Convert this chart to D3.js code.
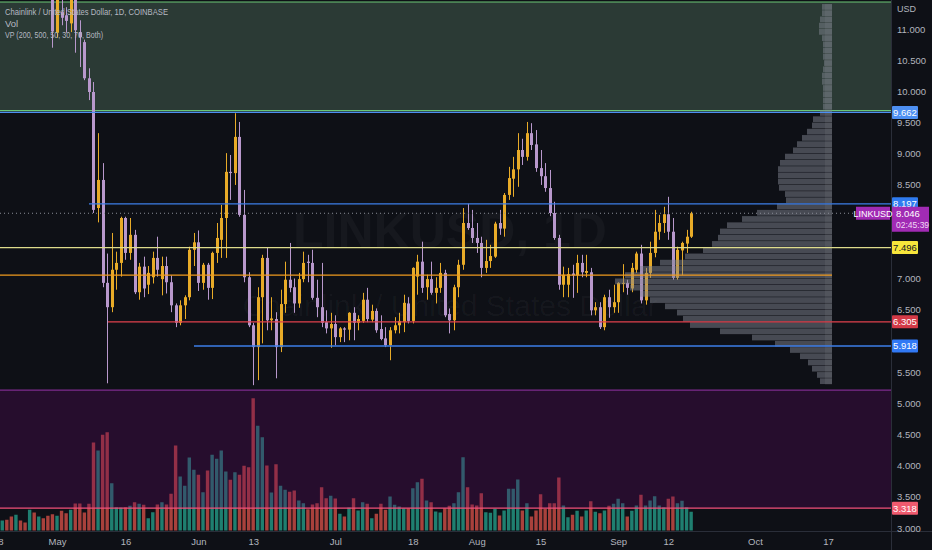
<!DOCTYPE html>
<html>
<head>
<meta charset="utf-8">
<script src="https://d3js.org/d3.v7.min.js"></script>
<style>
html, body { margin: 0; padding: 0; background: #0e1016; overflow: hidden; }
text { font-family: "Liberation Sans", "DejaVu Sans", sans-serif; }
</style>
</head>
<body>
<script>
let width = 932
let height = 550
let plotRight = 891
let plotBottom = 531

// daily candles [open, high, low, close], first one is 2022-04-18
let startDate = "2022-04-18"
let aprCandles = [
  [13.5,14.2,13.2,14.0],[14.0,14.8,13.9,14.6],[14.6,14.9,14.0,14.2],[14.2,14.6,13.3,13.5],
  [13.5,13.9,13.2,13.7],[13.7,13.8,13.0,13.1],[13.1,13.4,12.6,12.9],[12.9,13.6,12.8,13.4],
  [13.4,13.5,12.2,12.3],[12.3,12.9,12.1,12.7],[12.7,12.9,12.2,12.4],[12.4,12.6,11.7,11.8],
  [11.8,12.0,10.70,10.96]
]
let mayCandles = [
  [10.94,11.8,10.86,11.6],[11.27,11.5,11.06,11.18],[11.22,11.35,10.94,11.13],[11.09,11.8,10.95,11.7],
  [11.7,11.9,10.62,10.98],[10.95,11.14,10.39,10.87],[10.79,10.83,10.18,10.21],[10.21,10.37,9.86,9.99],
  [9.99,10.15,8.05,8.10],[8.13,9.33,7.90,8.58],[8.58,8.85,6.86,6.93],[6.93,7.40,5.32,6.54],
  [6.54,7.73,6.46,7.14],[7.14,7.43,6.82,7.25],[7.25,7.99,7.03,7.97],[7.97,7.99,7.30,7.41],
  [7.41,7.97,7.30,7.70],[7.70,7.78,6.75,6.78],[6.78,7.25,6.66,7.19],[7.19,7.35,6.70,6.84],
  [6.90,7.20,6.75,7.09],[7.02,7.43,6.92,7.33],[7.33,7.67,7.03,7.14],[6.99,7.35,6.73,7.20],
  [7.20,7.35,6.76,6.94],[6.94,7.05,6.46,6.57],[6.57,6.60,6.22,6.29],[6.29,6.65,6.25,6.57],
  [6.57,6.73,6.35,6.70],[6.70,7.51,6.65,7.46],[7.46,7.73,7.20,7.58]
]
let junCandles = [
  [7.58,7.77,6.80,6.93],[6.93,7.25,6.82,7.22],[7.22,7.25,6.66,6.85],[6.85,7.43,6.67,7.41],
  [7.41,7.89,7.25,7.65],[7.62,8.18,7.33,7.97],[7.97,9.01,7.33,8.71],[8.71,8.98,8.26,8.69],
  [8.69,9.65,8.50,9.27],[9.27,9.51,7.99,8.02],[8.02,8.42,6.94,7.02],[7.02,7.10,6.22,6.25],
  [6.25,6.29,5.29,5.90],[5.90,6.86,5.37,6.70],[6.70,7.38,5.96,7.33],[7.33,7.49,6.17,6.33],
  [6.33,6.70,6.17,6.36],[6.35,6.46,5.40,5.90],[5.90,6.82,5.82,6.59],[6.59,7.27,6.45,6.98],
  [6.98,7.57,6.78,6.85],[6.86,7.00,6.45,6.60],[6.60,7.09,6.53,6.99],[6.99,7.43,6.94,7.25],
  [7.27,7.38,6.94,7.25],[7.25,7.46,6.66,6.69],[6.69,6.98,6.38,6.54],[6.54,7.25,6.22,6.29],
  [6.30,6.49,6.12,6.20],[6.20,6.45,5.89,6.27]
]
let julCandles = [
  [6.27,6.41,5.93,6.06],[6.06,6.22,5.98,6.20],[6.20,6.22,5.98,6.18],[6.18,6.46,6.01,6.45],
  [6.45,6.54,6.01,6.29],[6.29,6.41,6.17,6.35],[6.32,6.77,6.29,6.66],[6.66,6.85,6.30,6.35],
  [6.34,6.58,6.30,6.48],[6.48,6.52,6.13,6.17],[6.19,6.41,6.01,6.03],[6.04,6.22,5.90,5.93],
  [5.93,6.22,5.69,6.17],[6.17,6.38,6.12,6.25],[6.25,6.45,6.12,6.32],[6.30,6.74,6.14,6.61],
  [6.60,6.70,6.28,6.32],[6.32,7.18,6.28,7.17],[7.03,7.38,6.74,7.27],[7.27,7.59,6.77,6.85],
  [6.86,7.06,6.66,6.99],[6.99,7.27,6.74,6.77],[6.77,7.02,6.60,6.85],[6.85,7.25,6.77,7.09],
  [7.09,7.14,6.38,6.41],[6.43,6.52,6.12,6.33],[6.33,6.90,6.17,6.86],[6.86,7.30,6.70,7.22],
  [7.22,8.13,7.14,7.89],[7.89,8.20,7.78,7.81],[7.81,8.10,7.57,7.65]
]
let augCandles = [
  [7.65,7.89,7.41,7.57],[7.57,7.67,7.02,7.17],[7.17,7.62,7.09,7.28],[7.28,7.54,7.17,7.36],
  [7.35,7.91,7.33,7.88],[7.89,8.10,7.70,7.80],[7.80,8.37,7.67,8.34],[8.34,8.79,8.26,8.61],
  [8.60,8.95,8.31,8.75],[8.75,9.33,8.47,9.06],[9.06,9.24,8.82,8.95],[8.95,9.51,8.89,9.33],
  [9.33,9.49,9.06,9.14],[9.15,9.38,8.71,8.77],[8.77,9.06,8.50,8.64],[8.64,8.85,8.39,8.45],
  [8.45,8.74,8.00,8.05],[8.05,8.23,7.62,7.65],[7.65,7.70,6.82,6.90],[6.90,7.19,6.70,7.06],
  [6.90,7.17,6.70,7.07],[7.08,7.22,6.69,7.05],[7.05,7.38,6.77,7.25],[7.25,7.38,7.02,7.10],
  [7.09,7.38,7.02,7.12],[7.10,7.17,6.41,6.49],[6.49,6.62,6.41,6.54],[6.54,6.62,6.19,6.22],
  [6.22,6.74,6.17,6.70],[6.70,6.82,6.37,6.54],[6.54,6.90,6.45,6.62]
]
let sepCandles = [
  [6.62,6.94,6.45,6.93],[6.92,7.23,6.78,6.93],[6.93,6.98,6.74,6.85],[6.84,7.25,6.78,7.17],
  [7.14,7.43,7.09,7.40],[7.40,7.54,6.60,6.65],[6.65,7.17,6.58,7.09],[7.09,7.59,7.01,7.41],
  [7.41,8.10,7.34,7.75],[7.75,8.02,7.62,7.89],[7.89,8.15,7.73,8.03],[8.03,8.31,7.62,7.75],
  [7.75,7.97,6.98,7.01],[7.01,7.51,6.98,7.46],[7.45,7.59,7.05,7.57],[7.56,7.78,7.41,7.67],
  [7.67,8.07,7.65,8.046]
]

// daily volume (thousand LINK)
let aprVolume = [380,400,430,560,630,400,320,830,720,560,490,590,650]
let mayVolume = [590,790,690,830,1080,1080,720,1070,3520,3200,3830,3930,1890,930,920,930,990,1130,1070,1030,490,730,1040,1130,1040,1470,3400,2160,1790,2920,2430]
let junVolume = [2230,1530,2400,3030,2870,3200,2360,2030,2330,2230,2590,2530,5290,4190,3730,2600,1520,2650,1790,1630,1550,1600,1200,1090,850,1040,1090,1730,1290,1390]
let julVolume = [1280,670,560,920,1290,800,1130,1070,490,670,1070,830,1360,1030,960,890,890,1690,1930,2070,1200,1130,760,720,890,990,1090,1530,2930,1730,1040]
let augVolume = [1000,1490,730,710,870,600,800,1670,1670,2040,800,1090,560,800,1450,870,1090,1090,2120,1000,530,630,790,560,800,1170,750,690,800,990,1070]
let sepVolume = [1270,1090,560,790,1000,1430,1000,1200,1370,1000,930,1270,1360,1090,1190,930,750]

// volume profile rows, 0.1 wide, starting at 5.30
let vpStart = 5.3
let vpStep = 0.1
let vpRows = [12,15,20,24,32,42,57,80,112,142,149,155,167,182,192,202,217,207,192,172,147,129,120,114,112,105,90,75,55,46,47,53,54,54,54,52,47,39,35,30,25,20,19,12,9,9,9,9,10,10,9,8,9,9,9,10,13,13,12,10,10]

// axis ticks
let priceTicks = [11,10.5,10,9.5,9,8.5,8,7.5,7,6.5,6,5.5,5,4.5,4,3.5,3]
let dateTicks = ["2022-04-18","2022-05-01","2022-05-16","2022-06-01","2022-06-13","2022-07-01","2022-07-18","2022-08-01","2022-08-15","2022-09-01","2022-09-12","2022-10-01","2022-10-17"]

// drawn levels
let greenZone = [11.433, 9.69]
let purpleZone = [5.212, 3.318]
let levels = [9.662, 8.197, 7.496, 7.055, 6.305, 5.918, 3.318]
let lastPrice = 8.046

let allCandles = [].concat(aprCandles, mayCandles, junCandles, julCandles, augCandles, sepCandles)
let allVolume = [].concat(aprVolume, mayVolume, junVolume, julVolume, augVolume, sepVolume)
let t0 = new Date(startDate + "T00:00:00Z")
let data = allCandles.map((c, i) => ({
  date: d3.utcDay.offset(t0, i), o: c[0], h: c[1], l: c[2], c: c[3], v: allVolume[i]
}))

let x = d3.scaleUtc()
  .domain([new Date("2022-05-01T00:00:00Z"), new Date("2022-10-01T00:00:00Z")])
  .range([57, 755])
let y = d3.scaleLinear().domain([3, 11]).range([528, 29])
let yVol = d3.scaleLinear().domain([0, 5300]).range([530.5, 398])
let xVp = d3.scaleLinear().domain([0, d3.max(vpRows)]).range([832, 615])

let upCol = "#e8ab28"
let downCol = "#b898cc"

let svg = d3.select("body").append("svg")
  .attr("width", width)
  .attr("height", height)
  .style("background", "#0e1016")
  .style("display", "block")

svg.append("defs").append("clipPath").attr("id", "plotClip")
  .append("rect").attr("x", 0).attr("y", 0).attr("width", plotRight).attr("height", plotBottom)

let plot = svg.append("g").attr("clip-path", "url(#plotClip)")

// green zone
plot.append("rect")
  .attr("x", 0).attr("width", plotRight)
  .attr("y", y(greenZone[0])).attr("height", y(greenZone[1]) - y(greenZone[0]))
  .attr("fill", "rgb(114,156,125)").attr("fill-opacity", 0.3)
plot.append("g").selectAll("line").data(greenZone).join("line")
  .attr("x1", 0).attr("x2", plotRight)
  .attr("y1", d => y(d)).attr("y2", d => y(d))
  .attr("stroke", "#6cc777").attr("stroke-width", 1.2)

// watermark
plot.append("text").attr("x", 450).attr("y", 248).attr("text-anchor", "middle")
  .attr("font-size", 50).attr("font-weight", "bold").attr("fill", "#ffffff").attr("fill-opacity", 0.035)
  .text("LINKUSD, 1D")
plot.append("text").attr("x", 450).attr("y", 316).attr("text-anchor", "middle")
  .attr("font-size", 30).attr("fill", "#ffffff").attr("fill-opacity", 0.035)
  .text("Chainlink / United States Dollar")

// volume
plot.append("g").selectAll("rect").data(data).join("rect")
  .attr("x", d => x(d.date) - 1.7)
  .attr("width", 3.4)
  .attr("y", d => yVol(d.v))
  .attr("height", d => yVol(0) - yVol(d.v))
  .attr("fill", d => d.c >= d.o ? "#1f7f70" : "#a9413c")

// purple zone over the volume
plot.append("rect")
  .attr("x", 0).attr("width", plotRight)
  .attr("y", y(purpleZone[0])).attr("height", y(purpleZone[1]) - y(purpleZone[0]))
  .attr("fill", "rgb(95,8,100)").attr("fill-opacity", 0.3)
plot.append("line")
  .attr("x1", 0).attr("x2", plotRight)
  .attr("y1", y(purpleZone[0])).attr("y2", y(purpleZone[0]))
  .attr("stroke", "#7e2b8e").attr("stroke-width", 1.2)

// candles
let candleG = plot.append("g")
candleG.selectAll("line").data(data).join("line")
  .attr("x1", d => Math.round(x(d.date)) + 0.5)
  .attr("x2", d => Math.round(x(d.date)) + 0.5)
  .attr("y1", d => y(d.h))
  .attr("y2", d => y(d.l))
  .attr("stroke", d => d.c >= d.o ? upCol : downCol)
  .attr("stroke-width", 1)
candleG.selectAll("rect").data(data).join("rect")
  .attr("x", d => Math.round(x(d.date)) - 1)
  .attr("width", 3)
  .attr("y", d => y(Math.max(d.o, d.c)))
  .attr("height", d => Math.max(1, Math.abs(y(d.o) - y(d.c))))
  .attr("fill", d => d.c >= d.o ? upCol : downCol)

// volume profile
let vpG = plot.append("g")
vpG.selectAll("rect").data(vpRows).join("rect")
  .attr("x", d => xVp(d))
  .attr("width", d => xVp(0) - xVp(d))
  .attr("y", (d, i) => y(vpStart + (i + 1) * vpStep))
  .attr("height", (d, i) => y(vpStart + i * vpStep) - y(vpStart + (i + 1) * vpStep) - 0.5)
  .attr("fill", "rgb(128,132,144)").attr("fill-opacity", 0.5)
vpG.append("rect")
  .attr("x", xVp(0) - 7).attr("width", 7)
  .attr("y", y(vpStart + vpRows.length * vpStep)).attr("height", y(vpStart) - y(vpStart + vpRows.length * vpStep))
  .attr("fill", "#9a9ca6").attr("fill-opacity", 0.12)

// horizontal levels
let levelStyle = [
  { from: 0, to: plotRight, color: "#4c8ff2" },
  { from: 89, to: plotRight, color: "#3d7ee8" },
  { from: 0, to: plotRight, color: "#dedc8c" },
  { from: 0, to: 832, color: "#ef9a1e" },
  { from: 108, to: plotRight, color: "#e0404c" },
  { from: 194, to: plotRight, color: "#3d7ee8" },
  { from: 0, to: plotRight, color: "#f0507a" }
]
plot.append("g").selectAll("line").data(levels).join("line")
  .attr("x1", (d, i) => levelStyle[i].from)
  .attr("x2", (d, i) => levelStyle[i].to)
  .attr("y1", d => y(d)).attr("y2", d => y(d))
  .attr("stroke", (d, i) => levelStyle[i].color)
  .attr("stroke-width", 1.3)

// last price dotted line
plot.append("line")
  .attr("x1", 0).attr("x2", plotRight)
  .attr("y1", y(lastPrice)).attr("y2", y(lastPrice))
  .attr("stroke", "#8a8d98").attr("stroke-width", 1).attr("stroke-dasharray", "1,3")

// legend
let legend = ["Chainlink / United States Dollar, 1D, COINBASE", "Vol", "VP (200, 500, 50, 30, 70, Both)"]
let legendLen = [163, 0, 98]
svg.append("g").selectAll("text").data(legend).join("text")
  .attr("x", 5)
  .attr("y", (d, i) => 15 + i * 11.5)
  .attr("font-size", 9.5)
  .attr("fill", "#b6b9c2")
  .each(function (d, i) {
    if (legendLen[i]) d3.select(this).attr("textLength", legendLen[i]).attr("lengthAdjust", "spacingAndGlyphs")
  })
  .text(d => d)

// axis frames
svg.append("line").attr("x1", plotRight + 0.5).attr("x2", plotRight + 0.5).attr("y1", 0).attr("y2", height)
  .attr("stroke", "#2a2e39")
svg.append("line").attr("x1", 0).attr("x2", width).attr("y1", plotBottom + 0.5).attr("y2", plotBottom + 0.5)
  .attr("stroke", "#2a2e39")

// price axis, tick labels hidden under a tag are left out like on the source
let tagPrices = levels.filter(p => p !== 7.055).concat([lastPrice])
let shownTicks = priceTicks.filter(t => tagPrices.every(p => Math.abs(y(t) - y(p)) > 9))
let priceAxis = svg.append("g").attr("transform", `translate(${plotRight},0)`)
  .call(d3.axisRight(y).tickValues(shownTicks).tickFormat(d3.format(".3f")).tickSize(0).tickPadding(6))
priceAxis.select(".domain").remove()
priceAxis.selectAll("text").attr("fill", "#b2b5be").attr("font-size", 9.5)
  .attr("font-family", "Liberation Sans, DejaVu Sans, sans-serif")
svg.append("text").attr("x", 897).attr("y", 12).attr("font-size", 9).attr("fill", "#b2b5be").text("USD")

// time axis
let dateAxis = svg.append("g").attr("transform", `translate(0,${plotBottom})`)
  .call(d3.axisBottom(x)
    .tickValues(dateTicks.map(s => new Date(s + "T00:00:00Z")))
    .tickFormat(d => d.getUTCDate() === 1 ? d3.utcFormat("%b")(d) : d3.utcFormat("%-d")(d))
    .tickSize(0).tickPadding(7))
dateAxis.select(".domain").remove()
dateAxis.selectAll("text").attr("fill", "#b2b5be").attr("font-size", 9.5)
  .attr("font-family", "Liberation Sans, DejaVu Sans, sans-serif")

// price labels on the axis
let labelStyle = [
  { bg: "#4d8ff2", fg: "#ffffff" },
  { bg: "#2f7bf0", fg: "#ffffff" },
  { bg: "#f7e53b", fg: "#131722" },
  null,
  { bg: "#d33a47", fg: "#ffffff" },
  { bg: "#3179f5", fg: "#ffffff" },
  { bg: "#f05a6e", fg: "#ffffff" }
]
let tags = svg.append("g")
levels.forEach((p, i) => {
  if (!labelStyle[i]) return
  tags.append("rect").attr("x", plotRight + 1).attr("y", y(p) - 6.5).attr("width", 26).attr("height", 13)
    .attr("rx", 1).attr("fill", labelStyle[i].bg)
  tags.append("text").attr("x", plotRight + 14).attr("y", y(p) + 3.5).attr("text-anchor", "middle")
    .attr("font-size", 9.5).attr("fill", labelStyle[i].fg).text(d3.format(".3f")(p))
})

// last price tag with countdown
let ly = y(lastPrice)
tags.append("rect").attr("x", plotRight + 1).attr("y", ly - 6.5).attr("width", 37).attr("height", 25)
  .attr("fill", "#a12bb4")
tags.append("text").attr("x", plotRight + 5).attr("y", ly + 3.5).attr("font-size", 9.5).attr("fill", "#ffffff")
  .text(d3.format(".3f")(lastPrice))
tags.append("text").attr("x", plotRight + 5).attr("y", ly + 15).attr("font-size", 8.5).attr("fill", "#f0d8f5")
  .text("02:45:39")
tags.append("rect").attr("x", 856).attr("y", ly - 6.5).attr("width", 34).attr("height", 13)
  .attr("fill", "#a12bb4")
tags.append("text").attr("x", 873).attr("y", ly + 3.5).attr("text-anchor", "middle")
  .attr("font-size", 9).attr("fill", "#ffffff").text("LINKUSD")
</script>
</body>
</html>
